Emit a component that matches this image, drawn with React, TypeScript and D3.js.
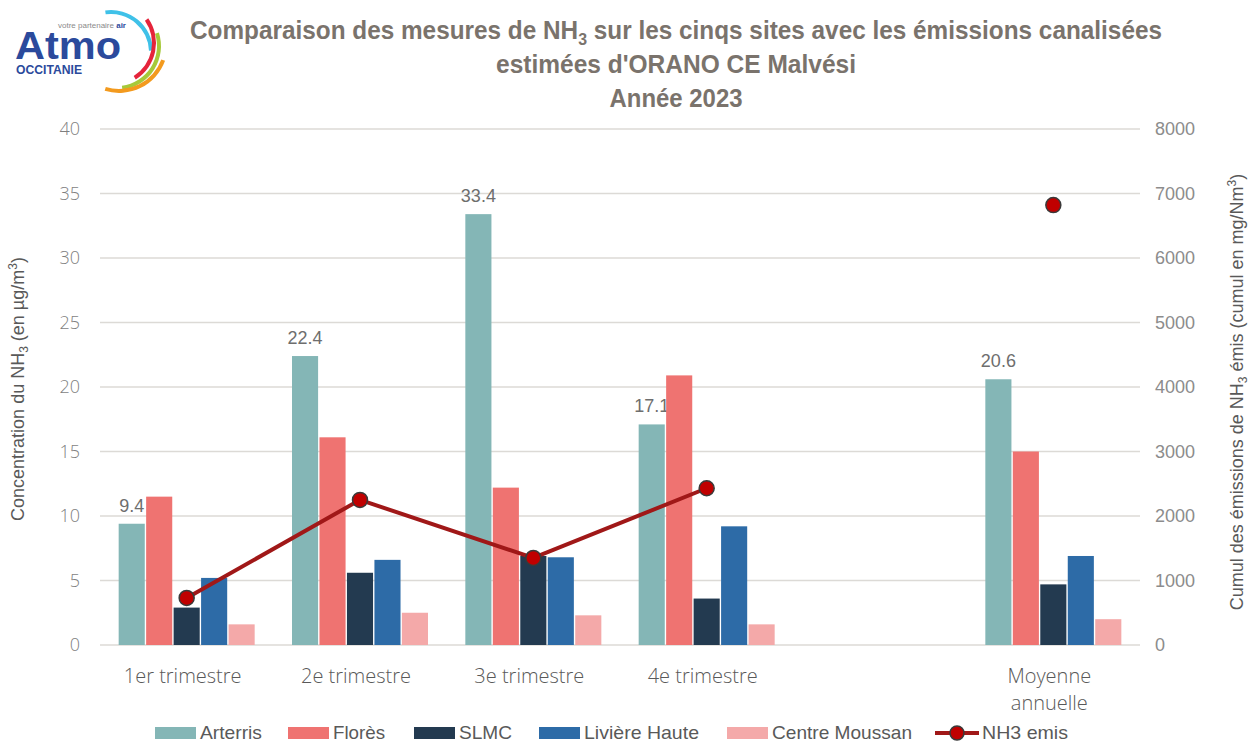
import React from 'react';
import * as d3 from 'd3';

const categories = ['1er trimestre', '2e trimestre', '3e trimestre', '4e trimestre', '', 'Moyenne annuelle'];
const series = ['Arterris', 'Florès', 'SLMC', 'Livière Haute', 'Centre Moussan'];
const colors = ['#84b6b6', '#ef7371', '#233a50', '#2d6ba7', '#f4a9a9'];

const arterris = [9.4, 22.4, 33.4, 17.1, null, 20.6];
const flores = [11.5, 16.1, 12.2, 20.9, null, 15.0];
const slmc = [2.9, 5.6, 6.9, 3.6, null, 4.7];
const liviere = [5.2, 6.6, 6.8, 9.2, null, 6.9];
const moussan = [1.6, 2.5, 2.3, 1.6, null, 2.0];
const nh3Emis = [730, 2250, 1350, 2430, null, 6820];

const leftTicks = [0, 5, 10, 15, 20, 25, 30, 35, 40];
const rightTicks = [0, 1000, 2000, 3000, 4000, 5000, 6000, 7000, 8000];

const values = [arterris, flores, slmc, liviere, moussan];

const narrow = "'Liberation Sans Narrow', 'Arial Narrow', 'Liberation Sans', Arial, sans-serif";
const light = "'Open Sans', 'Segoe UI', sans-serif";

const W = 1252;
const H = 742;

// legend layout (x of swatch, width of text)
const legendX = [155, 288, 414, 539, 727];
const legendTextW = [62, 52, 53, 115, 140];

const Logo = () => {
  const deg = Math.PI / 180;
  const arcs = [
    { c: '#3fc1e8', cx: 111, cy: 52, r: 40, a0: -8, a1: 88 },
    { c: '#e5243b', cx: 113, cy: 43, r: 41, a0: 55, a1: 148 },
    { c: '#a6c93a', cx: 117, cy: 46, r: 42, a0: 72, a1: 173 },
    { c: '#f39a1e', cx: 119, cy: 44, r: 47, a0: 110, a1: 197 },
  ];
  const sans = "'Liberation Sans', Arial, sans-serif";
  return (
    <g>
      {arcs.map((a, i) => (
        <path
          key={i}
          d={d3.arc()({ innerRadius: a.r - 2, outerRadius: a.r + 2, startAngle: a.a0 * deg, endAngle: a.a1 * deg }) as string}
          transform={`translate(${a.cx},${a.cy})`}
          fill={a.c}
        />
      ))}
      <text x={15} y={59} fontFamily={sans} fontWeight="bold" fontSize={38} fill="#2b4a9c" textLength={106} lengthAdjust="spacingAndGlyphs">Atmo</text>
      <text x={16} y={74} fontFamily={sans} fontWeight="bold" fontSize={12} fill="#2b4a9c" textLength={66} lengthAdjust="spacingAndGlyphs">OCCITANIE</text>
      <text x={58} y={28} fontFamily={sans} fontSize={8} fill="#8a8a8a" textLength={68} lengthAdjust="spacingAndGlyphs">
        votre partenaire <tspan fill="#2b4a9c" fontWeight="bold">air</tspan>
      </text>
    </g>
  );
};

const App = () => {
  const x0 = 100;
  const x1 = 1140;
  const yTop = 129;
  const yBot = 645;

  const x = d3.scaleBand<string>().domain(categories.map((c, i) => String(i))).range([x0, x1]);
  const groupW = 136;
  const xs = d3.scaleBand<string>().domain(series).range([0, groupW]).paddingInner(0.05);
  const y = d3.scaleLinear().domain([0, 40]).range([yBot, yTop]);
  const y2 = d3.scaleLinear().domain([0, 8000]).range([yBot, yTop]);

  const cx = (i: number) => (x(String(i)) as number) + x.bandwidth() / 2;
  const barX = (i: number, s: number) => (x(String(i)) as number) + (x.bandwidth() - groupW) / 2 + (xs(series[s]) as number);

  // line only joins consecutive points
  const line = d3.line<number | null>()
    .defined(d => d !== null)
    .x((d, i) => cx(i))
    .y(d => y2(d as number));

  return (
    <svg width={W} height={H} viewBox={`0 0 ${W} ${H}`} style={{ position: 'absolute', left: 0, top: 0, background: '#fff' }}>
      <Logo />

      {/* Title */}
      <g fontFamily={narrow} fontWeight="bold" fill="#7a736c" textAnchor="middle" fontSize={26}>
        <text x={676} y={39} textLength={972} lengthAdjust="spacingAndGlyphs">
          Comparaison des mesures de NH<tspan fontSize={17} dy={6}>3</tspan><tspan dy={-6}> sur les cinqs sites avec les émissions canalisées</tspan>
        </text>
        <text x={676} y={73} textLength={360} lengthAdjust="spacingAndGlyphs">estimées d'ORANO CE Malvési</text>
        <text x={676} y={107} textLength={133} lengthAdjust="spacingAndGlyphs">Année 2023</text>
      </g>

      {/* Grid */}
      {leftTicks.map(t => (
        <line key={t} x1={x0} x2={x1} y1={y(t)} y2={y(t)} stroke="#dcdad6" strokeWidth={1.5} />
      ))}

      {/* Left ticks */}
      <g fontFamily={light} fontWeight={300} fontSize={18} fill="#7f7f7f" textAnchor="end">
        {leftTicks.map(t => (
          <text key={t} x={80} y={y(t) + 6}>{t}</text>
        ))}
      </g>

      {/* Right ticks */}
      <g fontFamily={narrow} fontSize={18} fill="#8c8c8c" textAnchor="start">
        {rightTicks.map(t => (
          <text key={t} x={1155} y={y2(t) + 6}>{t}</text>
        ))}
      </g>

      {/* Axis titles */}
      <text transform={`translate(24,389) rotate(-90)`} textAnchor="middle" fontFamily={narrow} fontSize={18} fill="#595959">
        Concentration du NH<tspan fontSize={12} dy={4}>3</tspan><tspan dy={-4}> (en µg/m</tspan><tspan fontSize={12} dy={-7}>3</tspan><tspan dy={7}>)</tspan>
      </text>
      <text transform={`translate(1243,392) rotate(-90)`} textAnchor="middle" fontFamily={narrow} fontSize={18} fill="#595959">
        Cumul des émissions de NH<tspan fontSize={12} dy={4}>3</tspan><tspan dy={-4}> émis (cumul en mg/Nm</tspan><tspan fontSize={12} dy={-7}>3</tspan><tspan dy={7}>)</tspan>
      </text>

      {/* Data labels on Arterris */}
      <g fontFamily={narrow} fontSize={18} fill="#6e6e6e" textAnchor="middle">
        {arterris.map((v, i) => v === null ? null : (
          <text key={i} x={barX(i, 0) + xs.bandwidth() / 2} y={y(v) - 12}>{v.toFixed(1)}</text>
        ))}
      </g>

      {/* Bars */}
      {values.map((vals, s) => (
        <g key={s} fill={colors[s]}>
          {vals.map((v, i) => v === null ? null : (
            <rect key={i} x={barX(i, s)} y={y(v)} width={xs.bandwidth()} height={yBot - y(v)} />
          ))}
        </g>
      ))}

      {/* NH3 emis line */}
      <path d={line(nh3Emis) as string} fill="none" stroke="#a01818" strokeWidth={4} />
      {nh3Emis.map((v, i) => v === null ? null : (
        <circle key={i} cx={cx(i)} cy={y2(v)} r={7.5} fill="#c00000" stroke="#3a3a3a" strokeWidth={1.5} />
      ))}

      {/* X labels */}
      <g fontFamily={light} fontWeight={300} fontSize={20} fill="#595959" textAnchor="middle">
        {categories.map((c, i) => {
          const words = c === 'Moyenne annuelle' ? ['Moyenne', 'annuelle'] : [c];
          return (
            <text key={i} x={cx(i) - 5} y={683}>
              {words.map((w, k) => (
                <tspan key={k} x={cx(i) - 4} dy={k === 0 ? 0 : 27}>{w}</tspan>
              ))}
            </text>
          );
        })}
      </g>

      {/* Legend */}
      <g fontFamily={narrow} fontSize={19} fill="#595959">
        {legendX.map((lx, s) => (
          <g key={s}>
            <rect x={lx} y={727} width={41} height={12} fill={colors[s]} />
            <text x={lx + 45} y={739} textLength={legendTextW[s]} lengthAdjust="spacingAndGlyphs">{series[s]}</text>
          </g>
        ))}
        <line x1={935} x2={979} y1={733} y2={733} stroke="#a01818" strokeWidth={4} />
        <circle cx={957} cy={733} r={7} fill="#c00000" stroke="#3a3a3a" strokeWidth={1.5} />
        <text x={982} y={739} textLength={86} lengthAdjust="spacingAndGlyphs">NH3 emis</text>
      </g>
    </svg>
  );
};

export default App;
